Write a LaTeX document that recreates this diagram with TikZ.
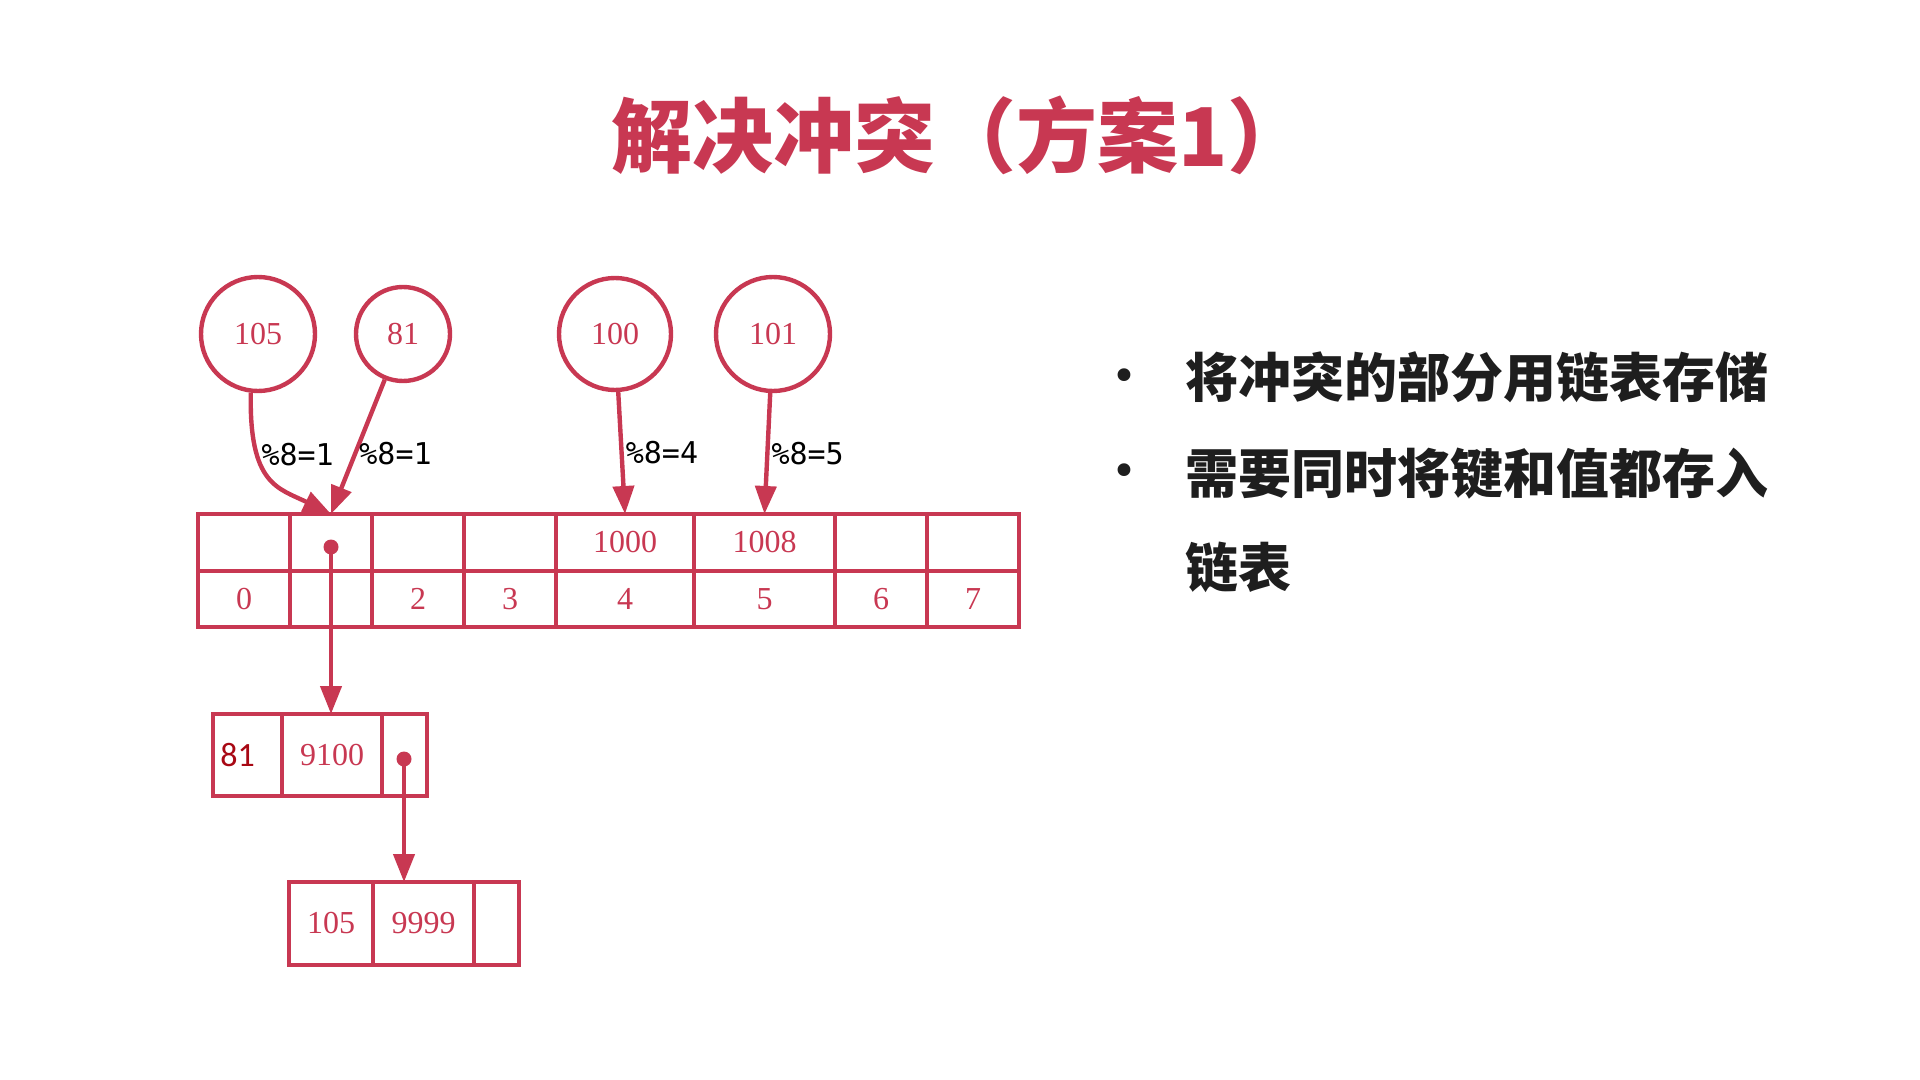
\documentclass[tikz,border=0pt]{standalone}
\usepackage{fontspec}
\setmainfont{Liberation Serif}
\newfontfamily\cjk{Noto Sans CJK SC}
\newfontfamily\hashfont{DejaVu Sans Mono}
\newfontfamily\keyfont{Carlito}
\newfontfamily\dotfont{DejaVu Sans}
\usetikzlibrary{arrows.meta,positioning}
\definecolor{crimson}{RGB}{200,56,82}
\definecolor{ink}{RGB}{30,30,30}
\definecolor{deepred}{RGB}{168,8,20}
\tikzset{
  cell/.style={draw=crimson,line width=2.2pt,inner sep=0pt,outer sep=0pt,text=crimson,
    font=\fontsize{16}{16}\selectfont},
  keyball/.style={circle,draw=crimson,line width=2.2pt,inner sep=0pt,text=crimson,
    font=\fontsize{16}{16}\selectfont},
  arr/.style={-{Triangle[length=14pt,width=10.5pt]},line width=2.2pt,draw=crimson},
  lbl/.style={font=\hashfont\fontsize{15}{15}\selectfont,text=black,inner sep=1pt},
  ptrdot/.style={circle,fill=crimson,inner sep=0pt,minimum size=7.5pt},
  headline/.style={font=\cjk\bfseries\fontsize{40.5}{40.5}\selectfont,text=crimson,anchor=west},
  bullettext/.style={font=\cjk\bfseries\fontsize{26.5}{26.5}\selectfont,text=ink,anchor=west},
  bulletmark/.style={font=\dotfont\fontsize{22}{22}\selectfont,text=ink},
}
\begin{document}
\begin{tikzpicture}[x=0.5pt,y=-0.5pt]
\useasboundingbox (0,0) rectangle (1920,1080);
% title
\node[headline] (head) at (604,135) {解决冲突（方案1）};
% keys
\node[keyball,minimum size=57pt] (k105) at (258,334) {105};
\node[keyball,minimum size=47pt] (k81) at (403,334) {81};
\node[keyball,minimum size=56pt] (k100) at (615,334) {100};
\node[keyball,minimum size=57pt] (k101) at (773,334) {101};
% hash table: value row and index row
\foreach \i/\l/\r/\t/\n in {0/198/290//0,1/290/372//,2/372/464//2,3/464/556//3,
    4/556/694/1000/4,5/694/835/1008/5,6/835/927//6,7/927/1019//7}{
  \node[cell,minimum width={(\r-\l)*0.5pt},minimum height=28.5pt] (v\i) at ({(\l+\r)/2},542.5) {\t};
  \node[cell,minimum width={(\r-\l)*0.5pt},minimum height=28pt] (i\i) at ({(\l+\r)/2},599) {\n};
}
% chain
\node[cell,minimum width=34.5pt,minimum height=41pt] (a1) at (247.5,755)
  {\keyfont\color{deepred}\fontsize{17}{17}\selectfont\kern-10pt\raisebox{-3.5pt}{81}};
\node[cell,minimum width=50pt,minimum height=41pt,right=0pt of a1] (a2) {9100};
\node[cell,minimum width=22.5pt,minimum height=41pt,right=0pt of a2] (a3) {};
\node[cell,minimum width=42pt,minimum height=41.5pt] (b1) at (331,923.5) {105};
\node[cell,minimum width=50.5pt,minimum height=41.5pt,right=0pt of b1] (b2) {9999};
\node[cell,minimum width=22.5pt,minimum height=41.5pt,right=0pt of b2] (b3) {};
\node[ptrdot] (d1) at (331,547) {};
\node[ptrdot] (d2) at (404,759) {};
% arrows
\draw[arr] (k105.-97) .. controls (249,485) and (278,488) .. node[lbl,right,pos=0.3] {\%8=1} (v1.north);
\draw[arr] (k81) -- node[lbl,right,pos=0.55] {\%8=1} (v1.north);
\draw[arr] (k100) -- node[lbl,right,pos=0.5] {\%8=4} (v4.north);
\draw[arr] (k101) -- node[lbl,right,pos=0.5] {\%8=5} (v5.north);
\draw[arr] (d1.center) -- (d1.center |- a2.north);
\draw[arr] (d2.center) -- (d2.center |- b2.north);
% notes
\node[bulletmark] (m1) at (1124,380) {•};
\node[bullettext] (p1) at (1178,377) {将冲突的部分用链表存储};
\node[bulletmark] (m2) at (1124,475) {•};
\node[bullettext] (p2) at (1178,474) {需要同时将键和值都存入};
\node[bullettext] (p3) at (1178,567) {链表};
\end{tikzpicture}
\end{document}
